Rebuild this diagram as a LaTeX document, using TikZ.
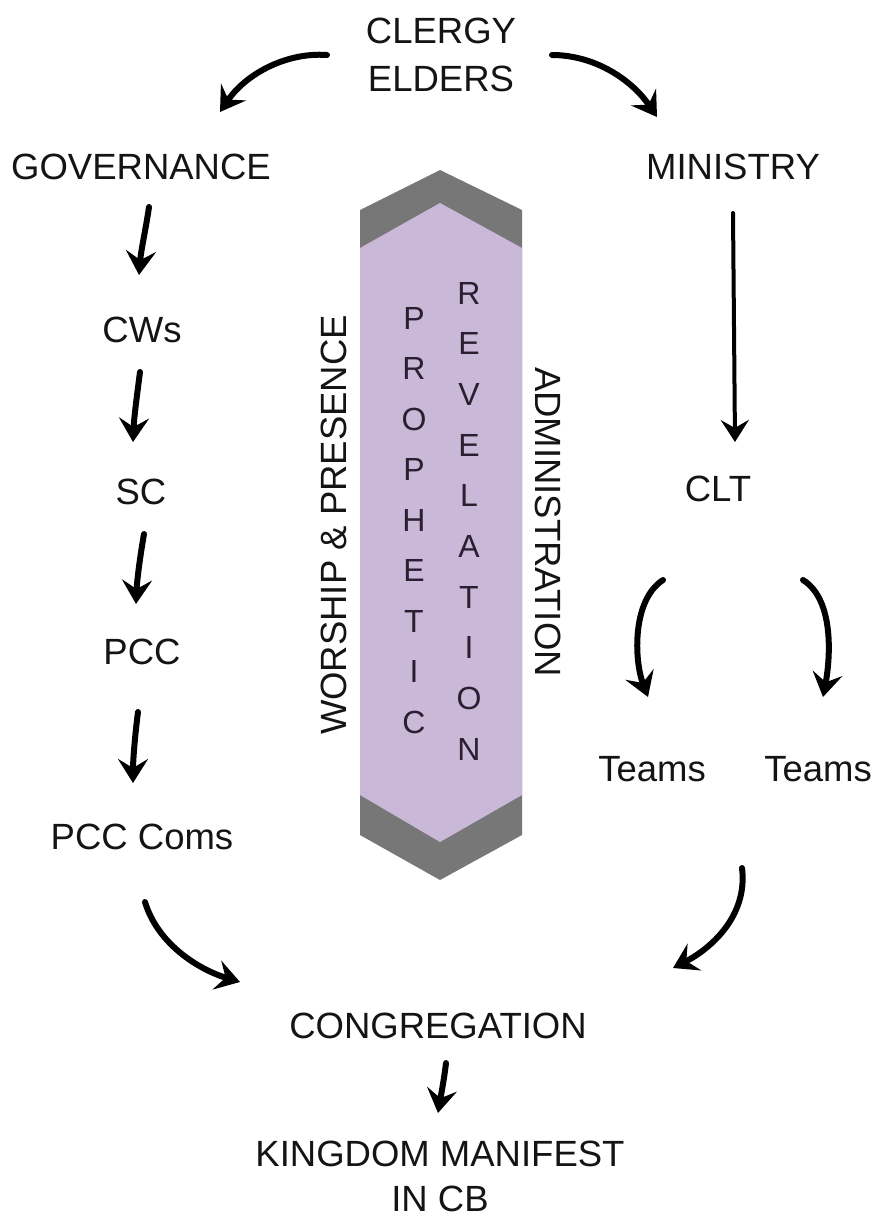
\documentclass[tikz,border=0pt]{standalone}
\usepackage{fontspec}
\setmainfont{Liberation Sans}
\usetikzlibrary{arrows.meta}
\definecolor{hexgray}{HTML}{777777}
\definecolor{hexlav}{HTML}{C9B8D8}
\definecolor{ink}{HTML}{141414}
\definecolor{letterink}{HTML}{2A1F30}
\tikzset{
  lbl/.style={anchor=base, inner sep=0pt, text=ink, font=\fontsize{36.5}{40}\selectfont},
  vlbl/.style={anchor=center, inner sep=0pt, text=ink, font=\fontsize{36.5}{40}\selectfont},
  stk/.style={anchor=center, inner sep=0pt, text=letterink, font=\fontsize{32}{36}\selectfont},
  brush/.style={draw=black, line width=6pt, line cap=round, -{Stealth[length=24pt,width=30pt,inset=9pt]}},
  thinbrush/.style={draw=black, line width=4pt, line cap=round, -{Stealth[length=22pt,width=28pt,inset=8pt]}}
}
\begin{document}
\begin{tikzpicture}[x=1pt,y=-1pt]
\useasboundingbox (0,0) rectangle (877,1218);
\fill[white] (0,0) rectangle (877,1218);
% central hexagon
\fill[hexgray] (440,170) -- (522,210) -- (522,835) -- (440,880) -- (360,835) -- (360,210) -- cycle;
\fill[hexlav] (440,203) -- (522,248) -- (522,795) -- (440,842) -- (360,795) -- (360,248) -- cycle;
% labels
\node[lbl] (clergy) at (441,43) {CLERGY};
\node[lbl] (elders) at (441,91) {ELDERS};
\node[lbl] (gov) at (141,179) {GOVERNANCE};
\node[lbl] (min) at (733,179) {MINISTRY};
\node[lbl] (cws) at (142,342) {CWs};
\node[lbl] (sc) at (141,504) {SC};
\node[lbl] (pcc) at (142,664) {PCC};
\node[lbl] (pcccoms) at (142,849) {PCC Coms};
\node[lbl] (clt) at (718,501) {CLT};
\node[lbl] (teamsl) at (652,781) {Teams};
\node[lbl] (teamsr) at (818,781) {Teams};
\node[lbl] (cong) at (438,1038) {CONGREGATION};
\node[lbl] (king) at (440,1166) {KINGDOM MANIFEST};
\node[lbl] (incb) at (440,1211) {IN CB};
\node[vlbl, rotate=90] (worship) at (334,525) {WORSHIP \& PRESENCE};
\node[vlbl, rotate=-90] (admin) at (548,522) {ADMINISTRATION};
% stacked letters
\foreach \l [count=\i from 0] in {P,R,O,P,H,E,T,I,C}
  \node[stk] (p\i) at (414,{318+50.5*\i}) {\l};
\foreach \l [count=\i from 0] in {R,E,V,E,L,A,T,I,O,N}
  \node[stk] (r\i) at (469,{293+50.7*\i}) {\l};
% arrow coordinates
\coordinate (a1s) at (327,55);  \coordinate (a1e) at (220,112);
\coordinate (a2s) at (552,55);  \coordinate (a2e) at (657,117);
\coordinate (a3s) at (149,207); \coordinate (a3e) at (139,275);
\coordinate (a4s) at (140,372); \coordinate (a4e) at (133,442);
\coordinate (a5s) at (144,534); \coordinate (a5e) at (136,604);
\coordinate (a6s) at (138,712); \coordinate (a6e) at (133,783);
\coordinate (a7s) at (145,902); \coordinate (a7e) at (240,982);
\coordinate (a8s) at (733,213); \coordinate (a8e) at (735,442);
\coordinate (a9s) at (663,580); \coordinate (a9e) at (648,697);
\coordinate (a10s) at (803,580); \coordinate (a10e) at (823,697);
\coordinate (a11s) at (742,868); \coordinate (a11e) at (673,968);
\coordinate (a12s) at (446,1063); \coordinate (a12e) at (438,1113);
% arrows
\draw[brush] (a1s) .. controls (285,52) and (245,75) .. (a1e);
\draw[brush] (a2s) .. controls (595,55) and (632,80) .. (a2e);
\draw[brush] (a3s) .. controls (146,228) and (141,250) .. (a3e);
\draw[brush] (a4s) .. controls (137,395) and (134,418) .. (a4e);
\draw[brush] (a5s) .. controls (140,557) and (137,580) .. (a5e);
\draw[brush] (a6s) .. controls (135,735) and (133,760) .. (a6e);
\draw[brush] (a7s) .. controls (158,945) and (200,970) .. (a7e);
\draw[thinbrush] (a8s) -- (a8e);
\draw[brush] (a9s) .. controls (632,600) and (634,660) .. (a9e);
\draw[brush] (a10s) .. controls (835,600) and (830,660) .. (a10e);
\draw[brush] (a11s) .. controls (748,915) and (712,948) .. (a11e);
\draw[brush] (a12s) .. controls (444,1080) and (441,1095) .. (a12e);
\end{tikzpicture}
\end{document}
